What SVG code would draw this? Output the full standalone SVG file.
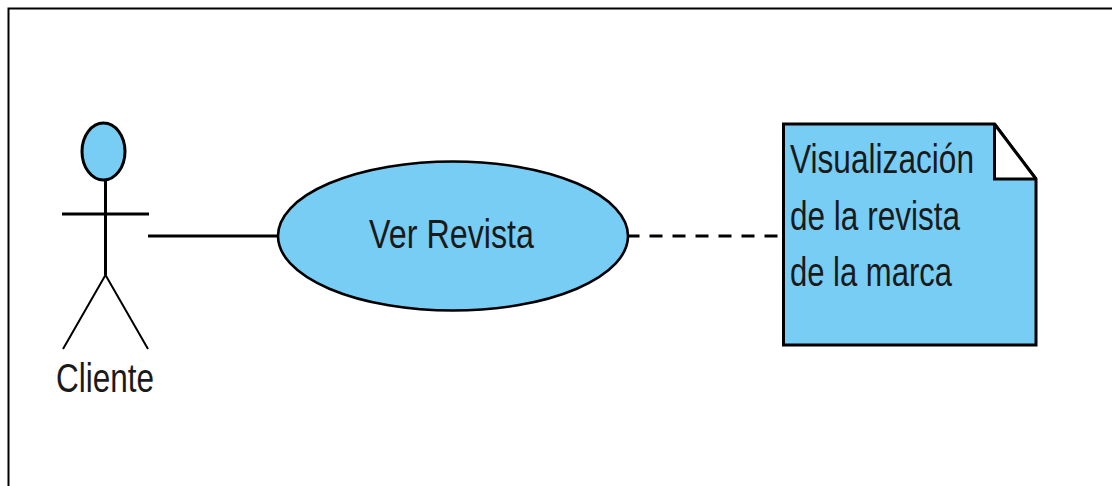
<svg xmlns="http://www.w3.org/2000/svg" width="1112" height="486" viewBox="0 0 1112 486">
<style>
.s{stroke:#000;fill:none}
.f{fill:#78cdf5}
text{font-family:"Liberation Sans",Arial,sans-serif;fill:#1a1a1a;font-size:40px}
</style>
<rect width="1112" height="486" fill="#fff"/>
<g id="frame"><path d="M8.500 486V8.500H1112" class="s" stroke-width="2"/></g>
<g id="connectors">
<path d="M148 236H279" class="s" stroke-width="3"/>
<path d="M626.500 236H779" class="s" stroke-width="3" stroke-dasharray="13 10"/>
</g>
<g id="actor-cliente">
<ellipse cx="103.500" cy="151.500" rx="21.500" ry="28.500" class="s f" stroke-width="3"/>
<path d="M105.500 180V275" class="s" stroke-width="3"/>
<path d="M62 214H149" class="s" stroke-width="3"/>
<path d="M105.500 275L63 349M105.500 275L148 349" class="s" stroke-width="2"/>
<text x="56" y="392" textLength="98" lengthAdjust="spacingAndGlyphs">Cliente</text>
</g>
<g id="usecase-ver-revista">
<ellipse cx="453" cy="236" rx="175" ry="74.500" class="s f" stroke-width="2.600"/>
<text x="369" y="248" textLength="165" lengthAdjust="spacingAndGlyphs">Ver Revista</text>
</g>
<g id="note">
<path d="M783.500 124H994.500L1036 179V345H783.500Z" class="s f" stroke-width="3"/>
<path d="M994.500 124V179H1036Z" fill="#fff" stroke="none"/>
<path d="M994.500 124V179H1036" class="s" stroke-width="3"/>
<path d="M994.500 124L1036 179" class="s" stroke-width="3"/>
<text x="790" y="173" textLength="184" lengthAdjust="spacingAndGlyphs">Visualización</text>
<text x="790" y="230" textLength="170" lengthAdjust="spacingAndGlyphs">de la revista</text>
<text x="790" y="286" textLength="162" lengthAdjust="spacingAndGlyphs">de la marca</text>
</g>
</svg>
